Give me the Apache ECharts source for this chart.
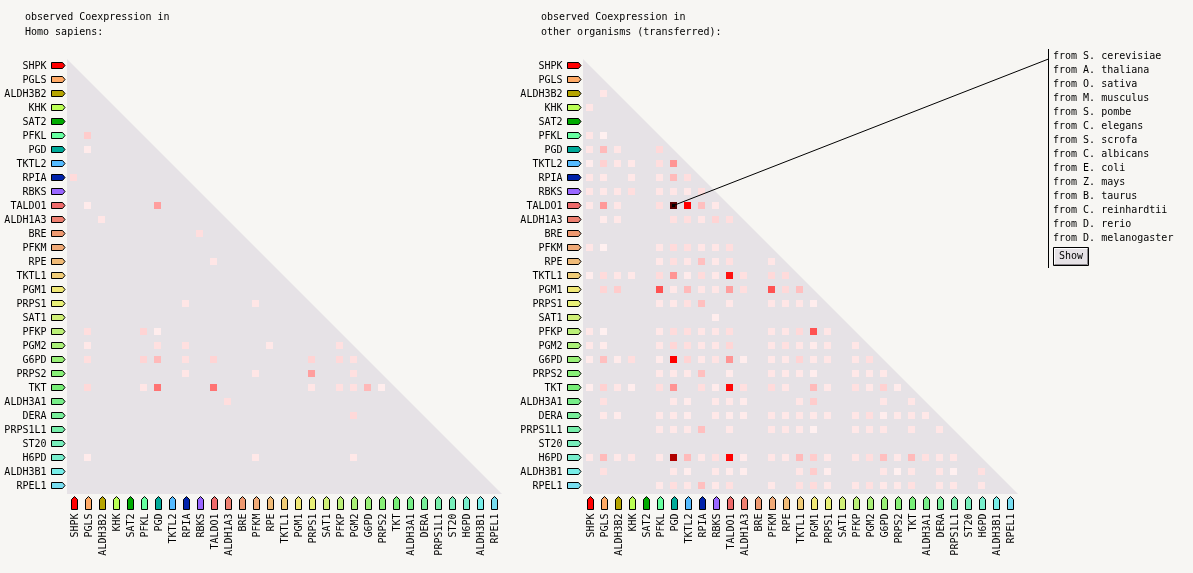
<!DOCTYPE html>
<html>
<head>
<meta charset="utf-8">
<style>html,body{margin:0;padding:0;background:#f7f6f3}#c{width:1193px;height:573px}</style>
<script src="https://cdn.jsdelivr.net/npm/echarts@6/dist/echarts.min.js"></script>
</head>
<body>
<div id="c"></div>
<script>
const genes = ['SHPK','PGLS','ALDH3B2','KHK','SAT2','PFKL','PGD','TKTL2','RPIA','RBKS','TALDO1','ALDH1A3','BRE','PFKM','RPE','TKTL1','PGM1','PRPS1','SAT1','PFKP','PGM2','G6PD','PRPS2','TKT','ALDH3A1','DERA','PRPS1L1','ST20','H6PD','ALDH3B1','RPEL1'];
const geneColors = ['#ff0000','#ffaa66','#b5a400','#bbff55','#00aa00','#66ffa0','#00aa99','#55bbff','#0022aa','#9966ff','#ee6a6a','#ee8070','#ee9970','#f0aa77','#f0bb77','#f0cc77','#f0e877','#e8f077','#d0f077','#bbf077','#aaf077','#99f077','#88f077','#77ee77','#77ee88','#77ee99','#77eeaa','#77eebb','#77eecc','#77eee8','#77ddf0'];
const organisms = ['from S. cerevisiae','from A. thaliana','from O. sativa','from M. musculus','from S. pombe','from C. elegans','from S. scrofa','from C. albicans','from E. coli','from Z. mays','from B. taurus','from C. reinhardtii','from D. rerio','from D. melanogaster'];

// [column, row, score]; score 0..1 runs white to red, 1..2 runs red to black
const humanCells = [
[1,5,.2],[1,6,.08],[0,8,.14],[1,10,.08],[6,10,.38],[2,11,.1],[9,12,.13],[10,14,.1],[8,17,.1],[13,17,.1],
[1,19,.13],[5,19,.17],[6,19,.07],[1,20,.09],[6,20,.12],[8,20,.12],[14,20,.09],[19,20,.12],
[1,21,.13],[5,21,.17],[6,21,.27],[8,21,.12],[10,21,.17],[17,21,.17],[19,21,.15],[20,21,.12],
[8,22,.1],[13,22,.1],[17,22,.38],[20,22,.12],
[1,23,.15],[5,23,.1],[6,23,.55],[10,23,.55],[17,23,.1],[19,23,.12],[20,23,.12],[21,23,.28],[22,23,.07],
[11,24,.13],[20,25,.15],[1,28,.08],[13,28,.09],[20,28,.09]
];
const otherCells = [
[1,2,.1],[0,3,.1],[0,5,.1],[1,5,.06],[0,6,.1],[1,6,.27],[2,6,.1],[5,6,.15],
[0,7,.07],[1,7,.18],[2,7,.1],[3,7,.09],[5,7,.13],[6,7,.42],
[0,8,.1],[1,8,.09],[3,8,.09],[5,8,.1],[6,8,.27],[7,8,.13],
[0,9,.1],[1,9,.09],[2,9,.1],[3,9,.13],[5,9,.1],[6,9,.1],[7,9,.09],[8,9,.13],
[0,10,.09],[1,10,.4],[2,10,.1],[5,10,.13],[6,10,1.65],[7,10,1],[8,10,.25],[9,10,.09],
[1,11,.08],[2,11,.09],[6,11,.12],[7,11,.13],[8,11,.1],[9,11,.17],[10,11,.13],
[0,13,.1],[1,13,.06],[5,13,.1],[6,13,.14],[7,13,.13],[8,13,.1],[9,13,.1],[10,13,.13],
[5,14,.09],[6,14,.13],[7,14,.1],[8,14,.25],[9,14,.09],[10,14,.12],[13,14,.1],
[0,15,.07],[1,15,.14],[2,15,.1],[3,15,.09],[5,15,.14],[6,15,.42],[7,15,.08],[8,15,.14],[9,15,.09],[10,15,.93],[11,15,.12],[13,15,.15],[14,15,.14],
[1,16,.17],[2,16,.2],[5,16,.68],[6,16,.09],[7,16,.27],[8,16,.1],[9,16,.1],[10,16,.38],[11,16,.13],[13,16,.68],[14,16,.15],[15,16,.25],
[5,17,.09],[6,17,.09],[7,17,.12],[8,17,.25],[10,17,.09],[13,17,.1],[14,17,.1],[15,17,.1],[16,17,.07],
[9,18,.07],
[0,19,.09],[1,19,.06],[5,19,.09],[6,19,.14],[7,19,.13],[8,19,.1],[9,19,.1],[10,19,.13],[13,19,.1],[14,19,.1],[15,19,.15],[16,19,.68],[17,19,.1],
[0,20,.09],[1,20,.08],[5,20,.1],[6,20,.16],[7,20,.13],[8,20,.1],[9,20,.1],[10,20,.16],[13,20,.1],[14,20,.12],[15,20,.1],[16,20,.08],[17,20,.1],[19,20,.1],
[0,21,.08],[1,21,.25],[2,21,.08],[3,21,.13],[5,21,.08],[6,21,1],[7,21,.17],[8,21,.09],[9,21,.11],[10,21,.42],[11,21,.07],[13,21,.09],[14,21,.09],[15,21,.17],[16,21,.09],[17,21,.1],[19,21,.1],[20,21,.13],
[5,22,.09],[6,22,.09],[7,22,.09],[8,22,.25],[10,22,.08],[13,22,.1],[14,22,.09],[15,22,.09],[16,22,.07],[19,22,.09],[20,22,.09],[21,22,.09],
[0,23,.07],[1,23,.18],[2,23,.1],[3,23,.07],[5,23,.13],[6,23,.42],[8,23,.13],[9,23,.08],[10,23,.97],[11,23,.12],[13,23,.14],[14,23,.1],[16,23,.27],[17,23,.09],[19,23,.12],[20,23,.09],[21,23,.18],[22,23,.08],
[1,24,.12],[6,24,.09],[7,24,.08],[9,24,.09],[10,24,.09],[11,24,.08],[15,24,.1],[16,24,.2],[21,24,.1],[23,24,.1],
[1,25,.09],[2,25,.08],[5,25,.09],[6,25,.09],[7,25,.08],[9,25,.09],[10,25,.08],[11,25,.08],[13,25,.1],[14,25,.09],[15,25,.1],[16,25,.09],[17,25,.09],[19,25,.1],[20,25,.13],[21,25,.07],[22,25,.09],[23,25,.1],[24,25,.09],
[5,26,.09],[6,26,.09],[7,26,.09],[8,26,.25],[10,26,.09],[13,26,.1],[14,26,.1],[15,26,.09],[16,26,.06],[19,26,.09],[20,26,.1],[21,26,.1],[23,26,.1],[25,26,.1],
[0,28,.09],[1,28,.27],[2,28,.09],[3,28,.1],[5,28,.09],[6,28,1.31],[7,28,.27],[8,28,.09],[9,28,.12],[10,28,1],[11,28,.08],[13,28,.1],[14,28,.09],[15,28,.27],[16,28,.2],[17,28,.09],[19,28,.1],[20,28,.13],[21,28,.25],[22,28,.09],[23,28,.27],[24,28,.12],[25,28,.1],[26,28,.1],
[1,29,.12],[6,29,.09],[7,29,.07],[9,29,.09],[10,29,.08],[11,29,.07],[15,29,.1],[16,29,.2],[17,29,.07],[21,29,.1],[22,29,.06],[23,29,.1],[25,29,.1],[26,29,.06],[28,29,.12],
[5,30,.09],[6,30,.13],[7,30,.1],[8,30,.25],[9,30,.09],[10,30,.12],[13,30,.09],[15,30,.12],[16,30,.14],[17,30,.09],[19,30,.1],[20,30,.12],[21,30,.09],[22,30,.09],[23,30,.12],[25,30,.1],[26,30,.1],[28,30,.1]
];
const selectedCell = [6, 10];

const FONT = '"DejaVu Sans Mono", monospace';
const BG = '#f7f6f3', TRI = '#e6e2e6';
const PANEL_X = 1048.5;

function triangleRender(params, api) {
  const o = api.coord([0, 0]), e = api.coord([30, 30]);
  const l = o[0] - 6.5, t = o[1] - 6.5, r = e[0] + 8.5, b = e[1] + 8.5;
  return { type: 'polygon', shape: { points: [[l, t], [l, b], [r, b]] }, style: { fill: TRI } };
}
function arrowRender(params, api) {
  const i = api.value(0), color = geneColors[i];
  const left = api.coord([0, i]), bottom = api.coord([i, 30]);
  const lx = left[0], y = left[1], x = bottom[0], by = bottom[1];
  return { type: 'group', children: [
    { type: 'polygon', shape: { points: [[lx - 22, y - 3], [lx - 11, y - 3], [lx - 8.5, y], [lx - 11, y + 3], [lx - 22, y + 3]] }, style: { fill: color, stroke: '#000', lineWidth: 1 } },
    { type: 'polygon', shape: { points: [[x - 2, by + 14], [x + 1, by + 11], [x + 4, by + 14], [x + 4, by + 24], [x - 2, by + 24]] }, style: { fill: color, stroke: '#000', lineWidth: 1 } }
  ] };
}
function connectorRender(params, api) {
  const p = api.coord([api.value(0), api.value(1)]);
  return { type: 'group', children: [
    { type: 'line', shape: { x1: p[0], y1: p[1], x2: PANEL_X, y2: 59 }, style: { stroke: '#000', lineWidth: 1 } },
    { type: 'rect', shape: { x: p[0] - 1.5, y: p[1] - 1.5, width: 3, height: 3 }, style: { fill: '#000' } }
  ] };
}

function axes(idx) {
  return {
    x: { gridIndex: idx, type: 'category', data: genes, position: 'bottom',
      axisLine: { show: false }, axisTick: { show: false }, splitLine: { show: false },
      axisLabel: { interval: 0, rotate: 90, margin: 21, verticalAlign: 'top', lineHeight: 4, fontFamily: FONT, fontSize: 10, color: '#000' } },
    y: { gridIndex: idx, type: 'category', data: genes, inverse: true,
      axisLine: { show: false }, axisTick: { show: false }, splitLine: { show: false },
      axisLabel: { interval: 0, margin: 20, verticalAlign: 'top', lineHeight: 2, fontFamily: FONT, fontSize: 10, color: '#000' } }
  };
}
const a0 = axes(0), a1 = axes(1);
const all = genes.map((g, i) => [i]);
function panelSeries(idx, cells, name) {
  return [
    { type: 'custom', xAxisIndex: idx, yAxisIndex: idx, z: 1, silent: true, renderItem: triangleRender, data: [[0, 0]], encode: { x: 0, y: 1 } },
    { type: 'custom', xAxisIndex: idx, yAxisIndex: idx, z: 1, silent: true, renderItem: arrowRender, data: all, encode: { x: 0 } },
    { type: 'scatter', name, xAxisIndex: idx, yAxisIndex: idx, z: 3, symbol: 'rect', symbolSize: 7, data: cells, itemStyle: { opacity: 1 } }
  ];
}
const series = panelSeries(0, humanCells, 'Homo sapiens').concat(panelSeries(1, otherCells, 'other organisms'));
series.push({ type: 'custom', xAxisIndex: 1, yAxisIndex: 1, z: 5, silent: true, renderItem: connectorRender, data: [selectedCell], encode: { x: 0, y: 1 } });

const graphic = [
  { type: 'line', shape: { x1: PANEL_X, y1: 49, x2: PANEL_X, y2: 268 }, style: { stroke: '#000', lineWidth: 1 } },
  { type: 'rect', shape: { x: 1053.5, y: 247.5, width: 35, height: 18 }, style: { fill: TRI, stroke: '#000', lineWidth: 1 } },
  { type: 'polyline', shape: { points: [[1054.5, 264.5], [1054.5, 248.5], [1087.5, 248.5]] }, style: { fill: 'none', stroke: '#fff', lineWidth: 1 } },
  { type: 'polyline', shape: { points: [[1087.5, 248.5], [1087.5, 264.5], [1054.5, 264.5]] }, style: { fill: 'none', stroke: '#8a868a', lineWidth: 1 } },
  { type: 'text', x: 1071, y: 256.5, style: { text: 'Show', font: '10px ' + FONT, fill: '#000', textAlign: 'center', textVerticalAlign: 'middle' } }
].concat(organisms.map((t, i) => ({ type: 'text', x: 1053, y: 56 + 14 * i, style: { text: t, font: '10px ' + FONT, fill: '#000', textVerticalAlign: 'middle' } })));

const chart = echarts.init(document.getElementById('c'), null, { renderer: 'canvas' });
chart.setOption({
  animation: false,
  backgroundColor: BG,
  title: [
    { text: 'observed Coexpression in\nHomo sapiens:', left: 20, top: 5, textStyle: { fontFamily: FONT, fontSize: 10, fontWeight: 'normal', color: '#000', lineHeight: 15 } },
    { text: 'observed Coexpression in\nother organisms (transferred):', left: 536, top: 5, textStyle: { fontFamily: FONT, fontSize: 10, fontWeight: 'normal', color: '#000', lineHeight: 15 } }
  ],
  grid: [
    { left: 66.5, top: 58.5, width: 434, height: 434 },
    { left: 582.5, top: 58.5, width: 434, height: 434 }
  ],
  xAxis: [a0.x, a1.x],
  yAxis: [a0.y, a1.y],
  visualMap: { show: false, type: 'continuous', seriesIndex: [2, 5], dimension: 2, min: 0, max: 2, inRange: { color: ['#ffffff', '#ff0000', '#000000'] } },
  series,
  graphic
});
</script>
</body>
</html>
